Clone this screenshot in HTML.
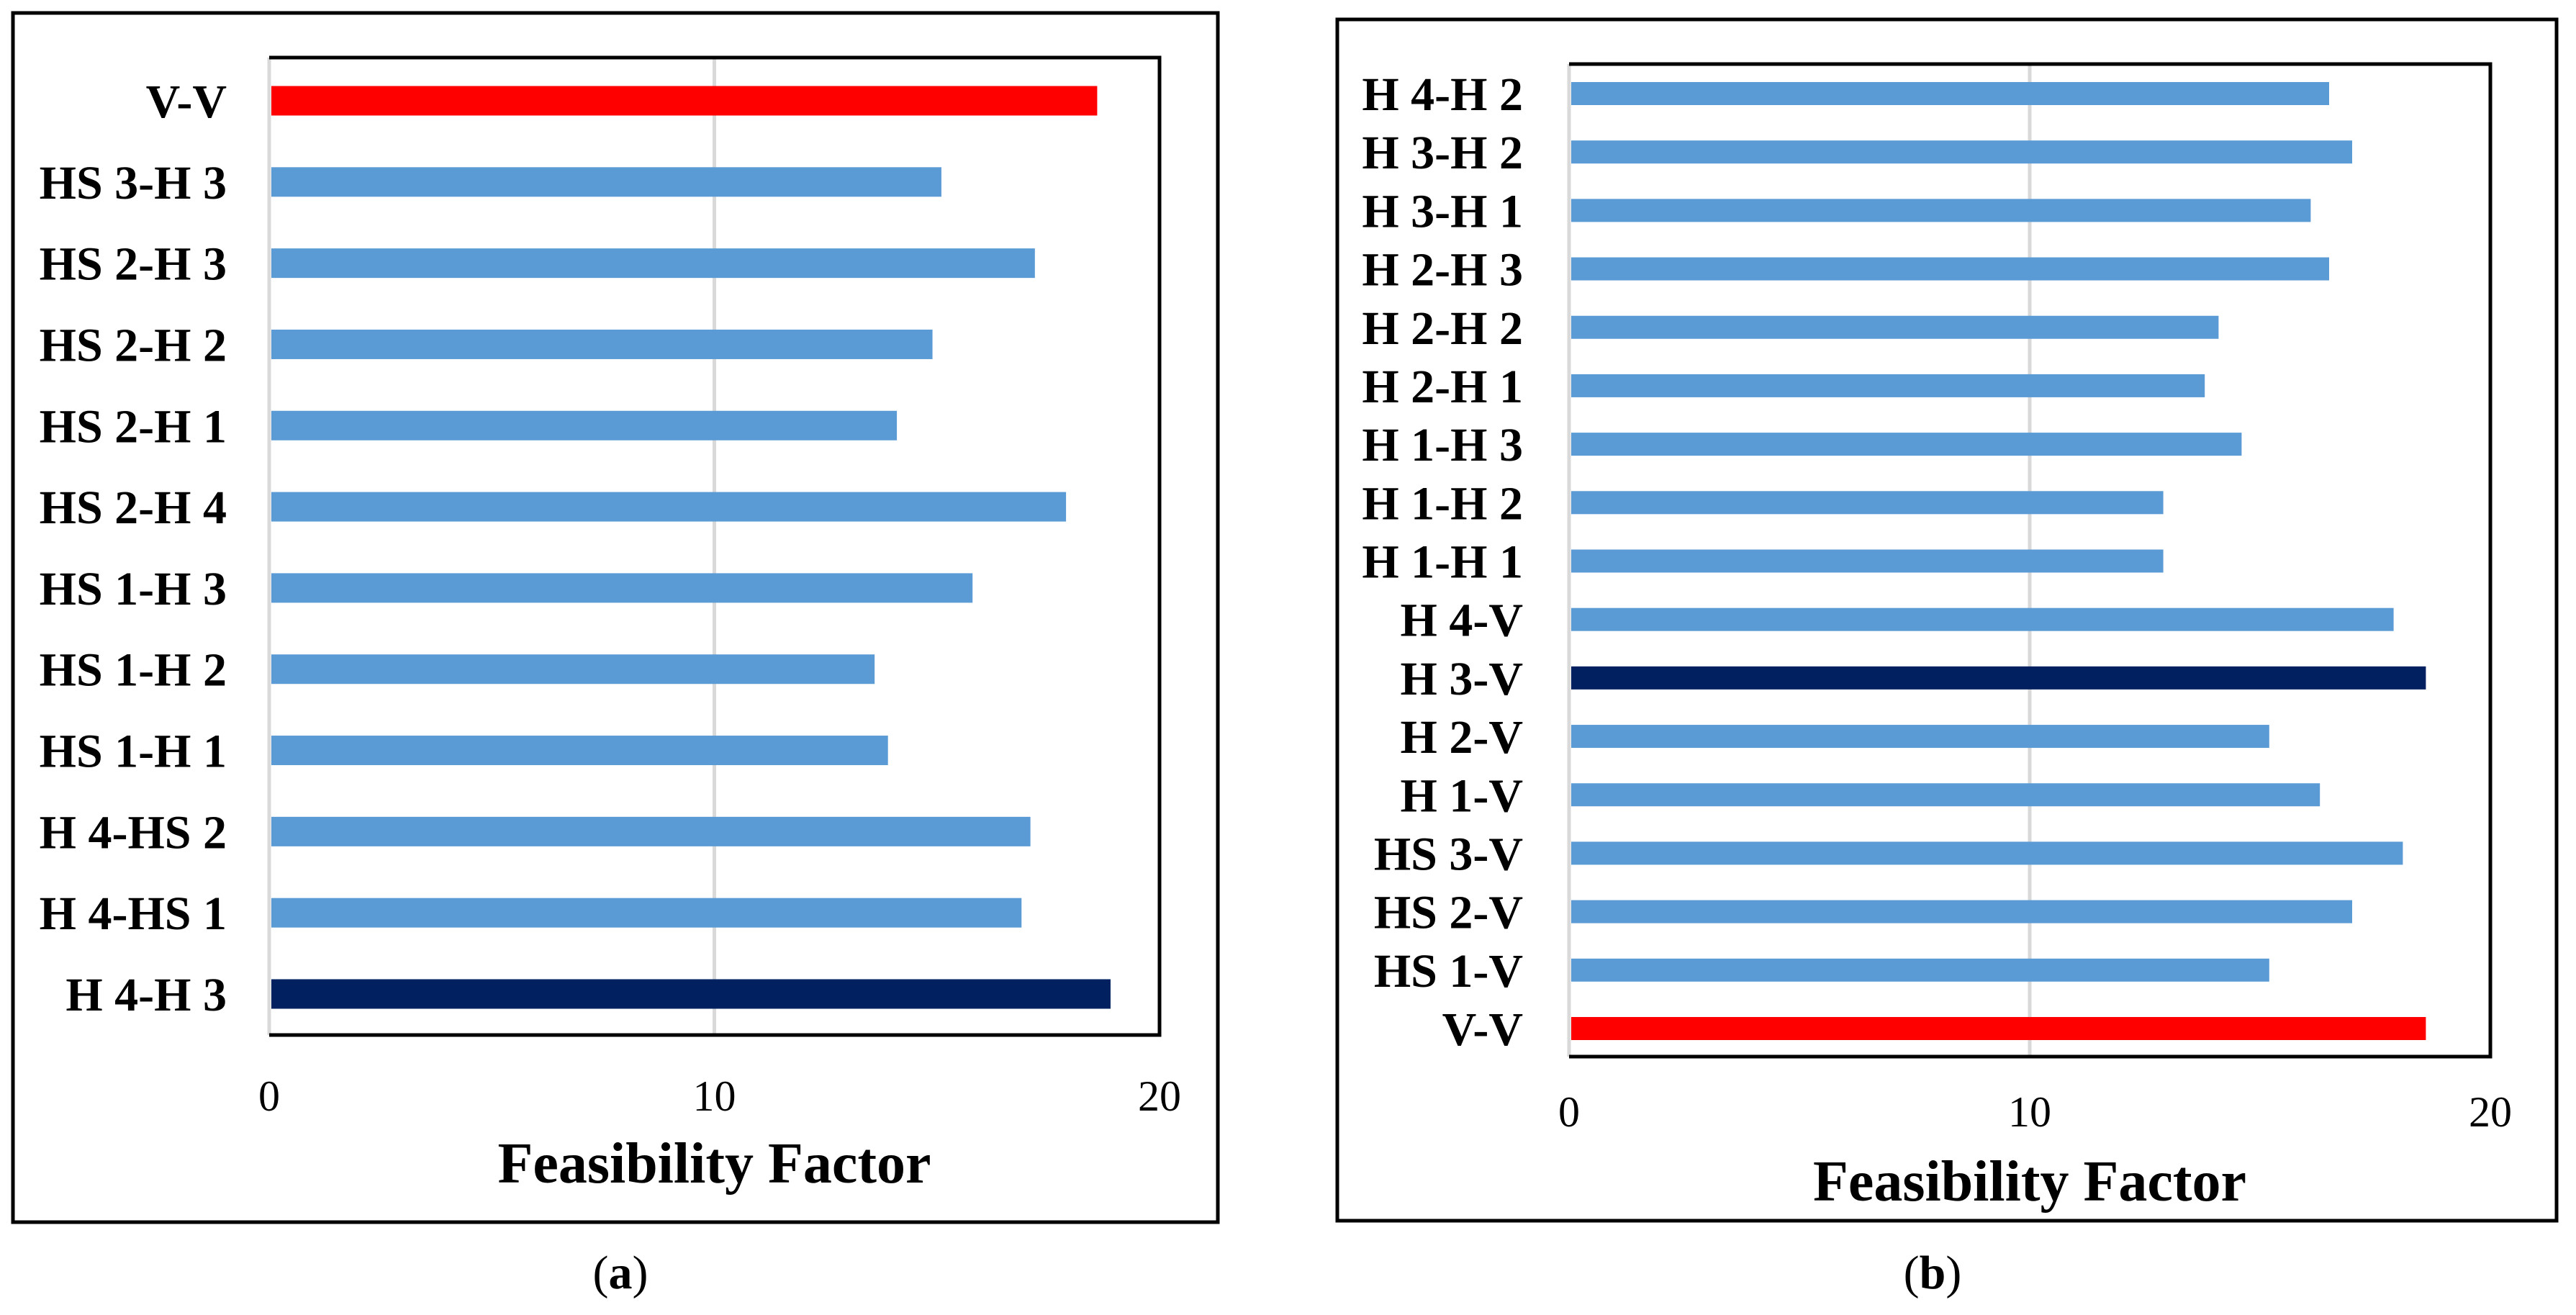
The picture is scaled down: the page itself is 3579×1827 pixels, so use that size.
<!DOCTYPE html>
<html><head><meta charset="utf-8"><style>
html,body{margin:0;padding:0;background:#fff;}
svg{display:block;}
text{font-family:"Liberation Serif",serif;fill:#000;}
.lab{font-weight:bold;font-size:66px;}
.tick{font-size:60px;}
.ttl{font-weight:bold;font-size:80px;}
.cap{font-size:66px;}
</style></head><body>
<svg id="fig" width="3579" height="1827" viewBox="0 0 3579 1827">
<rect x="18" y="18" width="1674" height="1680" fill="none" stroke="#000" stroke-width="5"/>
<rect x="1858" y="27" width="1694" height="1669" fill="none" stroke="#000" stroke-width="5"/>
<g id="pa"></g>
<g id="pb"></g>
<text class="cap" x="862" y="1790" text-anchor="middle">(<tspan font-weight="bold">a</tspan>)</text>
<text class="cap" x="2685" y="1790" text-anchor="middle">(<tspan font-weight="bold">b</tspan>)</text>
</svg>
<script>
const catsA = ["V-V","HS 3-H 3","HS 2-H 3","HS 2-H 2","HS 2-H 1","HS 2-H 4","HS 1-H 3","HS 1-H 2","HS 1-H 1","H 4-HS 2","H 4-HS 1","H 4-H 3"];
const valsA = [18.6,15.1,17.2,14.9,14.1,17.9,15.8,13.6,13.9,17.1,16.9,18.9];
const colsA = ["#ff0000","#5b9bd5","#5b9bd5","#5b9bd5","#5b9bd5","#5b9bd5","#5b9bd5","#5b9bd5","#5b9bd5","#5b9bd5","#5b9bd5","#002060"];
const catsB = ["H 4-H 2","H 3-H 2","H 3-H 1","H 2-H 3","H 2-H 2","H 2-H 1","H 1-H 3","H 1-H 2","H 1-H 1","H 4-V","H 3-V","H 2-V","H 1-V","HS 3-V","HS 2-V","HS 1-V","V-V"];
const valsB = [16.5,17.0,16.1,16.5,14.1,13.8,14.6,12.9,12.9,17.9,18.6,15.2,16.3,18.1,17.0,15.2,18.6];
const colsB = ["#5b9bd5","#5b9bd5","#5b9bd5","#5b9bd5","#5b9bd5","#5b9bd5","#5b9bd5","#5b9bd5","#5b9bd5","#5b9bd5","#002060","#5b9bd5","#5b9bd5","#5b9bd5","#5b9bd5","#5b9bd5","#ff0000"];
const ticks = [0,10,20];
const NS="http://www.w3.org/2000/svg";
function mk(tag,attrs,parent){const e=document.createElementNS(NS,tag);for(const k in attrs)e.setAttribute(k,attrs[k]);parent.appendChild(e);return e;}
function draw(g,cats,vals,cols,L,R,T,B,c0,c1,bh,labR,tickY,titleY,pfx){
  const x=v=>L+(v/20)*(R-L);
  const y=i=>c0+i*(c1-c0)/(cats.length-1);
  mk("rect",{x:L,y:T,width:R-L,height:B-T,fill:"#fff"},g);
  ticks.forEach(t=>{
    const gl=mk("line",{x1:x(t),x2:x(t),y1:T,y2:B,stroke:"#d9d9d9","stroke-width":5},g);
    
    
    const tx=mk("text",{x:x(t),y:tickY,"text-anchor":"middle",class:"tick"},g);
    tx.textContent=t;
    
    
  });
  mk("path",{d:`M${L} ${T} H${R} V${B} H${L}`,fill:"none",stroke:"#000","stroke-width":5},g);
  cats.forEach((c,i)=>{
    const r=mk("rect",{x:x(0)+3,y:y(i)-bh/2,width:x(vals[i])-x(0)-3,height:bh,fill:cols[i]},g);
    
    
    const t=mk("text",{x:labR,y:y(i)+23,"text-anchor":"end",class:"lab"},g);
    t.textContent=c;
    
    
  });
  const tt=mk("text",{x:(L+R)/2,y:titleY,"text-anchor":"middle",class:"ttl"},g);
  tt.textContent="Feasibility Factor";
  
  
}
draw(document.getElementById('pa'),catsA,valsA,colsA,374,1611,80,1438,140,1381,41,315,1543,1643,'a');
draw(document.getElementById('pb'),catsB,valsB,colsB,2180,3460,89,1468,130,1429,32,2116,1565,1668,'b');
</script>
</body></html>
